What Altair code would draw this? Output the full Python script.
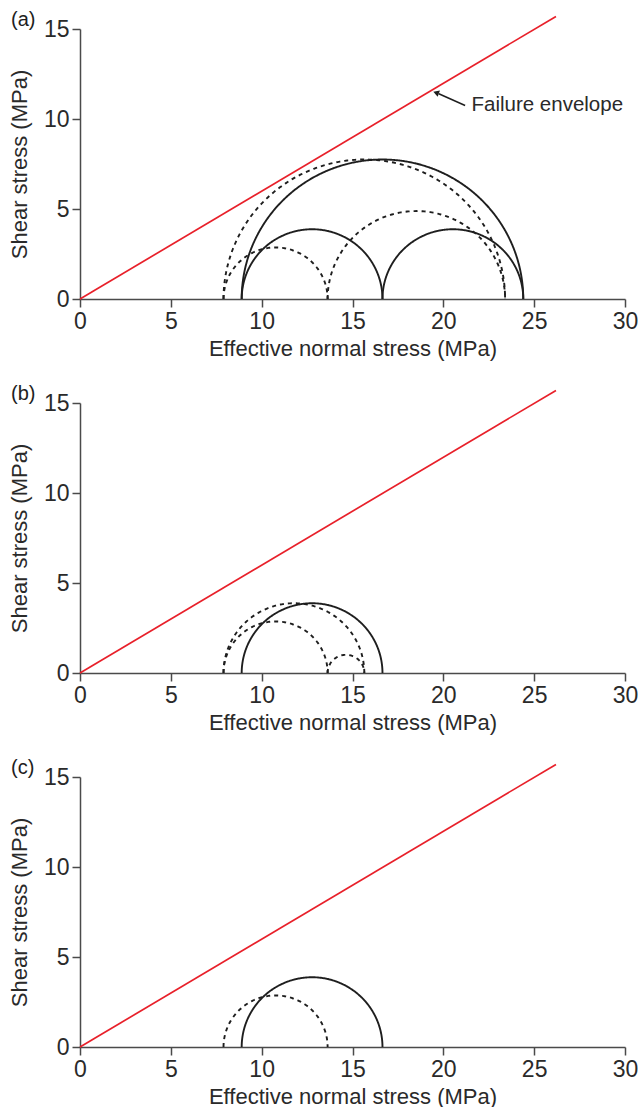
import altair as alt
import numpy as np
import pandas as pd

# ---------------- data ----------------
X_TICKS = [0, 5, 10, 15, 20, 25, 30]
Y_TICKS = [0, 5, 10, 15]

ENVELOPE_X = [0.0, 26.2]
ENVELOPE_Y = [0.0, 15.7]

PANELS = ["a", "b", "c"]
PANEL_LABELS = ["(a)", "(b)", "(c)"]

# Mohr circles: panel, sigma3 (left end), sigma1 (right end), line style
CIRCLE_PANEL = ["a", "a", "a", "a", "a", "a", "b", "b", "b", "b", "c", "c"]
CIRCLE_S3 = [8.9, 8.9, 16.65, 7.9, 7.9, 13.63, 8.9, 7.9, 7.9, 13.63, 8.9, 7.9]
CIRCLE_S1 = [24.4, 16.65, 24.4, 23.4, 13.63, 23.4, 16.65, 15.65, 13.63, 15.65, 16.65, 13.63]
CIRCLE_STYLE = ["solid", "solid", "solid", "dashed", "dashed", "dashed",
                "solid", "dashed", "dashed", "dashed", "solid", "dashed"]

# annotation (panel a)
ANNOT_TEXT = ["Failure envelope"]
ANNOT_X = [21.55]
ANNOT_Y = [10.8]
ARROW_X = [21.2, 19.75]
ARROW_Y = [10.75, 11.4]
ARROW_HEAD_X = [19.6]
ARROW_HEAD_Y = [11.46]

RED = "#e8202a"
INK = "#1e1e1e"
FONT = "Liberation Sans"

# ---------------- build tables ----------------
env_df = pd.DataFrame({"x": ENVELOPE_X, "y": ENVELOPE_Y})

rows = []
theta = np.linspace(0, np.pi, 181)
for cid, (p, s3, s1, st) in enumerate(zip(CIRCLE_PANEL, CIRCLE_S3, CIRCLE_S1, CIRCLE_STYLE)):
    c = (s1 + s3) / 2.0
    r = (s1 - s3) / 2.0
    for k, t in enumerate(theta):
        rows.append({"panel": p, "cid": cid, "style": st, "k": k,
                     "x": c - r * np.cos(t), "y": r * np.sin(t)})
circ_df = pd.DataFrame(rows)

annot_df = pd.DataFrame({"x": ANNOT_X, "y": ANNOT_Y, "t": ANNOT_TEXT})
arrow_df = pd.DataFrame({"x": ARROW_X, "y": ARROW_Y})
head_df = pd.DataFrame({"x": ARROW_HEAD_X, "y": ARROW_HEAD_Y})

xscale = alt.Scale(domain=[0, 30], nice=False, zero=False)
yscale = alt.Scale(domain=[0, 15], nice=False, zero=False)


def panel(p, label):
    env = alt.Chart(env_df).mark_line(color=RED, strokeWidth=1.7, clip=False).encode(
        x=alt.X("x:Q", scale=xscale,
                axis=alt.Axis(values=X_TICKS, title="Effective normal stress (MPa)",
                              titlePadding=5)),
        y=alt.Y("y:Q", scale=yscale,
                axis=alt.Axis(values=Y_TICKS, title="Shear stress (MPa)",
                              titlePadding=12)),
    )
    circles = alt.Chart(circ_df[circ_df["panel"] == p]).mark_line(
        color=INK, strokeWidth=1.9, clip=False
    ).encode(
        x=alt.X("x:Q", scale=xscale),
        y=alt.Y("y:Q", scale=yscale),
        detail="cid:N",
        order="k:Q",
        strokeDash=alt.StrokeDash(
            "style:N",
            scale=alt.Scale(domain=["solid", "dashed"], range=[[1, 0], [4, 4]]),
            legend=None,
        ),
    )
    layers = [env, circles]
    if p == "a":
        arrow = alt.Chart(arrow_df).mark_line(color=INK, strokeWidth=1.5, clip=False).encode(
            x=alt.X("x:Q", scale=xscale), y=alt.Y("y:Q", scale=yscale))
        head = alt.Chart(head_df).mark_point(
            shape="triangle-left", filled=True, color=INK, size=45, angle=20, opacity=1
        ).encode(x=alt.X("x:Q", scale=xscale), y=alt.Y("y:Q", scale=yscale))
        txt = alt.Chart(annot_df).mark_text(
            align="left", baseline="middle", fontSize=20.5, font=FONT, color="#2a2a2a"
        ).encode(x=alt.X("x:Q", scale=xscale), y=alt.Y("y:Q", scale=yscale), text="t:N")
        layers += [arrow, head, txt]
    return alt.layer(*layers).properties(
        width=545, height=270,
        title=alt.TitleParams(label, anchor="start", frame="group", dx=-69, dy=17,
                              offset=0, fontSize=20, fontWeight="normal", font=FONT,
                              color=INK),
    )


charts = [panel(p, lab) for p, lab in zip(PANELS, PANEL_LABELS)]

chart = alt.vconcat(*charts, spacing=104, bounds="flush").properties(
    padding={"left": 8, "top": 10, "right": 0, "bottom": 0}
).configure_view(stroke=None).configure_axis(
    grid=False,
    domainColor="#4a4a4a",
    domainWidth=1.5,
    tickColor="#4a4a4a",
    tickWidth=1.5,
    tickSize=8,
    labelFont=FONT,
    labelFontSize=23,
    labelColor="#2a2a2a",
    labelPadding=3,
    labelFlush=False,
    labelOverlap=False,
    titleFont=FONT,
    titleFontSize=22,
    titleFontWeight="normal",
    titleColor="#2a2a2a",
)

chart.save("out.html", embed_options={"renderer": "svg", "actions": False})
